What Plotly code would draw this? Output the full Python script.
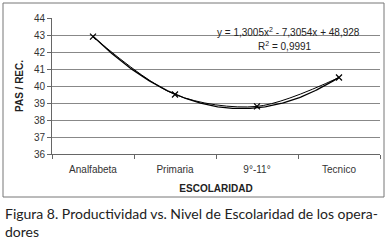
import numpy as np
import plotly.graph_objects as go

categories = ["Analfabeta", "Primaria", "9°-11°", "Tecnico"]
values = [42.9, 39.5, 38.8, 40.5]
trend_coef = [1.3005, -7.3054, 48.928]
y_ticks = [36, 37, 38, 39, 40, 41, 42, 43, 44]

W, H = 388, 245
L, R, T, B = 52, 8, 18, 91

def px(x):
    return (x - L) / (W - L - R)

def py(y):
    return 1 - (y - T) / (H - T - B)

xpos = [1, 2, 3, 4]
xs = np.linspace(1, 4, 200)
ys = np.polyval(trend_coef, xs)

fig = go.Figure()
fig.add_trace(go.Scatter(x=xs, y=ys, mode="lines",
                         line=dict(color="black", width=1.3), hoverinfo="skip"))
fig.add_trace(go.Scatter(x=xpos, y=values, mode="lines+markers",
                         line=dict(color="black", width=1, shape="spline", smoothing=0.9),
                         marker=dict(symbol="x-thin", size=6, line=dict(color="black", width=1.2))))

fig.update_layout(
    template="none",
    width=W, height=H, margin=dict(l=L, r=R, t=T, b=B, pad=0, autoexpand=False),
    paper_bgcolor="white", plot_bgcolor="white", showlegend=False,
    font=dict(family="Liberation Sans, Arial", size=10, color="#222"),
)
fig.update_xaxes(range=[0.5, 4.5], tickvals=xpos, ticktext=categories, automargin=False,
                 showgrid=False, zeroline=False, showline=True, linecolor="#666",
                 ticks="", ticklabelstandoff=6, tickfont=dict(size=10, color="#333"),
                 minor=dict(tickvals=[0.5, 1.5, 2.5, 3.5, 4.5], ticks="outside",
                            ticklen=4, tickcolor="#666", showgrid=False),
                 title=dict(text="<b>ESCOLARIDAD</b>", font=dict(size=10, color="#222"), standoff=10))
fig.update_yaxes(range=[36, 44], tickvals=y_ticks, showgrid=True, gridcolor="#888",
                 gridwidth=1, zeroline=False, showline=True, linecolor="#666", automargin=False,
                 ticks="outside", ticklen=4, tickcolor="#666",
                 tickfont=dict(size=10, color="#333"),
                 title=dict(text="<b>PAS / REC.</b>", font=dict(size=10, color="#222"), standoff=8))

fig.add_annotation(x=px(288), y=py(32), xref="paper", yref="paper",
                   text="y = 1,3005x<sup>2</sup> - 7,3054x + 48,928", showarrow=False,
                   font=dict(size=10, color="#222"), xanchor="center", yanchor="middle")
fig.add_annotation(x=px(285), y=py(46), xref="paper", yref="paper",
                   text="R<sup>2</sup> = 0,9991", showarrow=False,
                   font=dict(size=10, color="#222"), xanchor="center", yanchor="middle")

fig.add_shape(type="rect", xref="paper", yref="paper",
              x0=px(3), x1=px(384), y0=py(197), y1=py(3),
              line=dict(color="#777", width=1))

fig.add_annotation(x=px(3), y=py(203), xref="paper", yref="paper",
                   text="Figura 8. Productividad vs. Nivel de Escolaridad de los opera-<br>dores",
                   showarrow=False, align="left", xanchor="left", yanchor="top",
                   font=dict(family="Lato, Open Sans", size=14, color="#222"))

fig.write_html("out.html", config={"displayModeBar": False},
               post_script="document.body.style.margin='0';")
